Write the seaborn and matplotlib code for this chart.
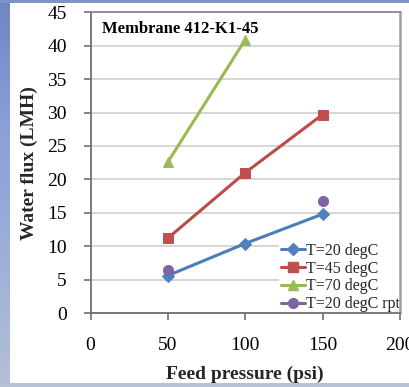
import numpy as np
import pandas as pd
import matplotlib
matplotlib.use("Agg")
import matplotlib.pyplot as plt
from matplotlib.lines import Line2D
from matplotlib.colors import LinearSegmentedColormap
import seaborn as sns

# ---- data ----
pressure_20 = [50, 100, 150]
flux_20 = [5.6, 10.4, 14.8]
pressure_45 = [50, 100, 150]
flux_45 = [11.2, 21.0, 29.7]
pressure_70 = [50, 100]
flux_70 = [22.6, 40.9]
pressure_20rpt = [50, 150]
flux_20rpt = [6.5, 16.8]
labels = ["T=20 degC", "T=45 degC", "T=70 degC", "T=20 degC rpt"]
x_ticks = [0, 50, 100, 150, 200]
y_ticks = [0, 5, 10, 15, 20, 25, 30, 35, 40, 45]
title = "Membrane 412-K1-45"

sns.set_theme(style="white")
plt.rcParams["font.family"] = ["Liberation Serif", "DejaVu Serif"]

W, H = 409, 387
fig = plt.figure(figsize=(W / 100, H / 100), dpi=100)
fig.patch.set_facecolor("white")

# decorative background strip on the left / top / bottom
bg = fig.add_axes([0, 0, 10 / W, 1])
grad = np.linspace(0, 1, 200).reshape(-1, 1)
cmap = LinearSegmentedColormap.from_list("sky", ["#6f86c2", "#8aa0d8", "#9db0d8", "#b3bfd6"])
bg.imshow(grad, aspect="auto", cmap=cmap, extent=[0, 1, 0, 1], origin="upper")
bg.axis("off")
top_strip = fig.add_axes([0, 1 - 2.5 / H, 1, 2.5 / H])
top_strip.axis("off")
top_strip.add_patch(plt.Rectangle((0, 0), 1, 1, color="#7d93c9", transform=top_strip.transAxes))
bot_strip = fig.add_axes([0, 0, 1, 4 / H])
bot_strip.axis("off")
bot_strip.add_patch(plt.Rectangle((0, 0), 1, 1, color="#b8c2d6", transform=bot_strip.transAxes))

ax = fig.add_axes([90.5 / W, 1 - 313 / H, (400 - 90.5) / W, (313 - 12.3) / H])

colors = ["#4a7ebb", "#be4b48", "#98b954", "#7f63a1"]
mcolors = ["#4f81bd", "#c0504d", "#9bbb59", "#8064a2"]

sns.lineplot(x=pressure_20, y=flux_20, ax=ax, color=colors[0], lw=2.2,
             marker="D", markersize=6, markerfacecolor=mcolors[0], markeredgecolor=mcolors[0])
sns.lineplot(x=pressure_45, y=flux_45, ax=ax, color=colors[1], lw=2.2,
             marker="s", markersize=7.5, markerfacecolor=mcolors[1], markeredgecolor=mcolors[1])
sns.lineplot(x=pressure_70, y=flux_70, ax=ax, color=colors[2], lw=2.2,
             marker="^", markersize=7.5, markerfacecolor=mcolors[2], markeredgecolor=mcolors[2])
sns.scatterplot(x=pressure_20rpt, y=flux_20rpt, ax=ax, color=mcolors[3], s=55,
                marker="o", edgecolor=mcolors[3], zorder=5)

ax.set_xlim(0, 200)
ax.set_ylim(0, 45)
ax.set_xticks(x_ticks)
ax.set_yticks(y_ticks)
ax.yaxis.grid(True, color="#cfcfcf", lw=1.2)
ax.xaxis.grid(False)
ax.set_axisbelow(True)
for s in ax.spines.values():
    s.set_color("#8a8a8a")
    s.set_linewidth(1.3)
    s.set_zorder(6)
ax.spines["left"].set_color("#6f6f6f")
ax.spines["bottom"].set_color("#6f6f6f")
ax.spines["right"].set_linewidth(1.8)
ax.spines["right"].set_color("#a0a0a0")
ax.tick_params(axis="y", direction="out", length=5, width=1.2, color="#6f6f6f",
               pad=12, labelsize=14, labelcolor="black", left=True)
ax.tick_params(axis="x", direction="out", length=5, width=1.2, color="#6f6f6f",
               pad=12.5, labelsize=14, labelcolor="black", bottom=True)

ax.set_xlabel("Feed pressure (psi)", fontsize=14, fontweight="bold", labelpad=8)
ax.set_ylabel("Water flux (LMH)", fontsize=14, fontweight="bold", labelpad=7)
ax.text(0.037, 0.945, title, transform=ax.transAxes, fontsize=12, fontweight="bold",
        ha="left", va="center", color="black")

markers = ["D", "s", "^", "o"]
msz = [6, 7, 7, 7]
handles = [Line2D([0], [0], color=colors[i], lw=2.2, marker=markers[i], markersize=msz[i],
                  markerfacecolor=mcolors[i], markeredgecolor=mcolors[i]) for i in range(4)]
leg = ax.legend(handles, labels, loc="upper left",
                bbox_to_anchor=((279 - 90.5) / (400 - 90.5), (313 - 241) / (313 - 12.3)),
                frameon=True, fontsize=11.5, handlelength=1.5, handletextpad=0.1,
                labelspacing=0.12, borderpad=0.1, borderaxespad=0)
leg.get_frame().set_facecolor("white")
leg.get_frame().set_edgecolor("none")
leg.get_frame().set_alpha(1)
leg.set_zorder(4)

fig.savefig("out.png", dpi=100)
